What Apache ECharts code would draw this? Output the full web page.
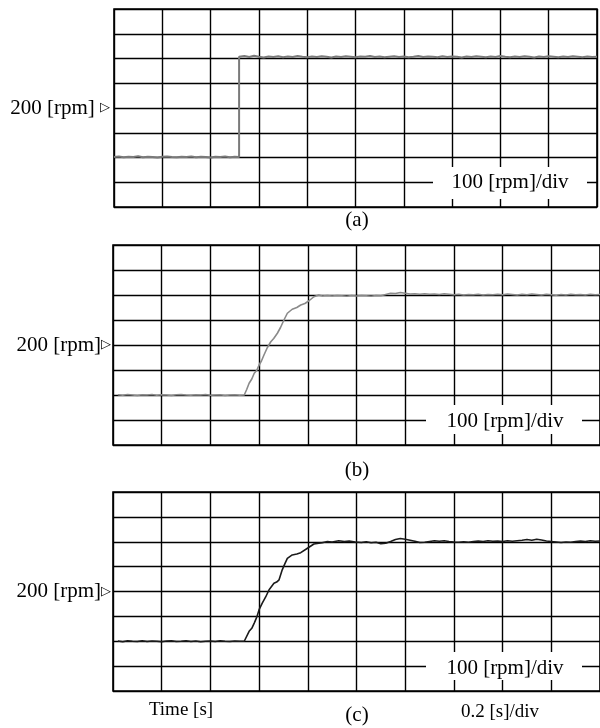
<!DOCTYPE html>
<html>
<head>
<meta charset="utf-8">
<title>Speed step responses</title>
<script src="https://cdn.jsdelivr.net/npm/echarts@6/dist/echarts.min.js"></script>
<style>
  html, body { margin: 0; padding: 0; background: #fff; }
  #chart { width: 600px; height: 728px; }
</style>
</head>
<body>
<div id="chart"></div>
<script>
// speed traces, [time s, speed rpm]
const speedA = [
  [0.00, 2], [0.02, 4], [0.04, 1], [0.06, 3], [0.08, 2], [0.10, 5], [0.12, 1], [0.14, 3], [0.16, 2], [0.18, 0],
  [0.20, 3], [0.22, 4], [0.24, 2], [0.26, 1], [0.28, 3], [0.30, 2], [0.32, 4], [0.34, 1], [0.36, 3], [0.38, 2],
  [0.40, 0], [0.42, 3], [0.44, 2], [0.46, 4], [0.48, 1], [0.50, 3], [0.518, 2],
  [0.518, 407], [0.54, 410], [0.56, 406], [0.58, 411], [0.60, 407], [0.62, 404], [0.64, 408], [0.66, 406],
  [0.68, 409], [0.70, 405], [0.72, 408], [0.74, 406], [0.76, 410], [0.78, 407], [0.80, 405], [0.82, 408],
  [0.84, 406], [0.86, 409], [0.88, 407], [0.90, 404], [0.92, 408], [0.94, 406], [0.96, 409], [0.98, 407],
  [1.00, 405], [1.02, 408], [1.04, 407], [1.06, 410], [1.08, 406], [1.10, 408], [1.12, 405], [1.14, 407],
  [1.16, 409], [1.18, 406], [1.20, 408], [1.22, 405], [1.24, 407], [1.26, 410], [1.28, 406], [1.30, 408],
  [1.32, 407], [1.34, 405], [1.36, 409], [1.38, 406], [1.40, 408], [1.42, 407], [1.44, 404], [1.46, 408],
  [1.48, 406], [1.50, 409], [1.52, 407], [1.54, 405], [1.56, 408], [1.58, 406], [1.60, 410], [1.62, 407],
  [1.64, 405], [1.66, 408], [1.68, 406], [1.70, 409], [1.72, 407], [1.74, 404], [1.76, 408], [1.78, 406],
  [1.80, 409], [1.82, 407], [1.84, 405], [1.86, 408], [1.88, 406], [1.90, 409], [1.92, 407], [1.94, 405],
  [1.96, 408], [1.98, 406], [2.00, 407]
];

const speedB = [
  [0.02, 1], [0.04, -1], [0.06, 2], [0.08, 0], [0.10, -2], [0.12, 1], [0.14, 0], [0.16, 2], [0.18, -1],
  [0.20, 1], [0.22, 0], [0.24, -2], [0.26, 1], [0.28, 2], [0.30, 0], [0.32, -1], [0.34, 1], [0.36, 0],
  [0.38, 2], [0.40, -1], [0.42, 0], [0.44, 1], [0.46, -2], [0.48, 0], [0.50, 1], [0.52, -1], [0.539, 0],
  [0.549, 22], [0.559, 47], [0.570, 64], [0.580, 87], [0.590, 98], [0.600, 120], [0.610, 137], [0.620, 160],
  [0.634, 190], [0.648, 213], [0.660, 226], [0.675, 247], [0.688, 270], [0.702, 300], [0.716, 327],
  [0.736, 343], [0.755, 350], [0.771, 360], [0.788, 366], [0.805, 377], [0.825, 393], [0.845, 400],
  [0.86, 396], [0.88, 398], [0.90, 396], [0.92, 398], [0.94, 397], [0.96, 395], [0.98, 398], [1.00, 396],
  [1.02, 398], [1.04, 397], [1.06, 395], [1.08, 398], [1.10, 397], [1.12, 402], [1.14, 407], [1.16, 406],
  [1.18, 410], [1.20, 407], [1.22, 404], [1.24, 405], [1.26, 403], [1.28, 405], [1.30, 403], [1.32, 404],
  [1.34, 402], [1.36, 405], [1.38, 403], [1.40, 401], [1.42, 403], [1.44, 400], [1.46, 402], [1.48, 401],
  [1.50, 403], [1.52, 400], [1.54, 402], [1.56, 401], [1.58, 403], [1.60, 401], [1.62, 404], [1.64, 402],
  [1.66, 400], [1.68, 403], [1.70, 401], [1.72, 404], [1.74, 402], [1.76, 400], [1.78, 403], [1.80, 401],
  [1.82, 399], [1.84, 402], [1.86, 400], [1.88, 403], [1.90, 401], [1.92, 402], [1.94, 400], [1.96, 403],
  [1.98, 401], [2.00, 402]
];

const speedC = [
  [0.02, 1], [0.04, -2], [0.06, 2], [0.08, 0], [0.10, -1], [0.12, 2], [0.14, -1], [0.16, 1], [0.18, 0],
  [0.20, -2], [0.22, 1], [0.24, 2], [0.26, -1], [0.28, 0], [0.30, 2], [0.32, -1], [0.34, 1], [0.36, -2],
  [0.38, 0], [0.40, 1], [0.42, -1], [0.44, 2], [0.46, 0], [0.48, -1], [0.50, 1], [0.52, 0], [0.539, 0],
  [0.559, 40], [0.570, 52], [0.580, 73], [0.590, 96], [0.600, 127], [0.613, 153], [0.627, 178], [0.641, 207],
  [0.661, 233], [0.672, 238], [0.682, 247], [0.695, 287], [0.706, 312], [0.716, 333], [0.736, 347],
  [0.755, 351], [0.771, 356], [0.797, 373], [0.825, 391],
  [0.859, 396], [0.88, 401], [0.90, 399], [0.927, 404], [0.95, 401], [0.97, 403], [0.995, 399],
  [1.02, 397], [1.04, 400], [1.06, 396], [1.08, 398], [1.10, 392], [1.12, 394], [1.14, 401], [1.16, 409],
  [1.18, 413], [1.20, 410], [1.22, 406], [1.24, 402], [1.26, 397], [1.28, 398], [1.30, 401], [1.32, 404],
  [1.34, 402], [1.36, 404], [1.38, 401], [1.40, 399], [1.42, 398], [1.44, 400], [1.46, 398], [1.48, 401],
  [1.50, 403], [1.52, 401], [1.54, 404], [1.56, 402], [1.58, 403], [1.60, 401], [1.62, 404], [1.64, 402],
  [1.66, 404], [1.68, 406], [1.70, 409], [1.72, 406], [1.74, 410], [1.76, 407], [1.78, 403], [1.80, 401],
  [1.82, 399], [1.84, 397], [1.86, 399], [1.88, 398], [1.90, 401], [1.92, 403], [1.94, 401], [1.96, 404],
  [1.98, 402], [2.00, 403]
];

// texts
const panelNames = ['(a)', '(b)', '(c)'];
const refLabels = ['200 [rpm] ', '200 [rpm]', '200 [rpm]'];
const voltDivLabel = '100 [rpm]/div';
const timeName = 'Time [s]';
const timeDivLabel = '0.2 [s]/div';

const serif = 'Liberation Serif';

// panel boxes on the page
const panels = [
  { left: 114, top: 9,   width: 483, height: 198, trace: speedA, color: '#7a7a7a', lw: 2,   margin: 4, nameY: 220,
    box: [433, 167, 154, 32], textX: 510, textY: 182 },
  { left: 113, top: 245, width: 489, height: 200, trace: speedB, color: '#8a8a8a', lw: 1.6, margin: 2, nameY: 470,
    box: [426, 405, 156, 29], textX: 505, textY: 421 },
  { left: 113, top: 492, width: 489, height: 199, trace: speedC, color: '#1a1a1a', lw: 1.6, margin: 2, nameY: 715,
    box: [426, 652, 156, 28], textX: 505, textY: 668 }
];

const gridLine = { color: '#000', width: 1.4 };

let grids = [], xAxes = [], yAxes = [], series = [], graphics = [];

panels.forEach((p, i) => {
  grids.push({
    left: p.left, top: p.top, width: p.width, height: p.height,
    show: true, borderColor: '#000', borderWidth: 1.6, backgroundColor: '#fff'
  });
  xAxes.push({
    gridIndex: i, type: 'value', min: 0, max: 2, interval: 0.2,
    axisLine: { show: false }, axisTick: { show: false }, axisLabel: { show: false },
    splitLine: { show: true, lineStyle: gridLine }
  });
  yAxes.push({
    gridIndex: i, type: 'value', min: -200, max: 600, interval: 100,
    axisLine: { show: false }, axisTick: { show: false },
    axisLabel: {
      show: true, margin: p.margin, color: '#000',
      fontFamily: serif, fontSize: 21,
      formatter: v => v === 200 ? refLabels[i] + '{t|▷}' : '',
      rich: { t: { fontFamily: 'DejaVu Sans', fontSize: 13, color: '#000' } }
    },
    splitLine: { show: true, lineStyle: gridLine }
  });
  series.push({
    type: 'line', xAxisIndex: i, yAxisIndex: i, data: p.trace,
    showSymbol: false, clip: true, z: 5,
    lineStyle: { color: p.color, width: p.lw }
  });
  // white patch with the vertical scale note
  graphics.push({
    type: 'rect', z: 100,
    shape: { x: p.box[0], y: p.box[1], width: p.box[2], height: p.box[3] },
    style: { fill: '#fff' }
  });
  graphics.push({
    type: 'text', z: 101, x: p.textX, y: p.textY,
    style: { text: voltDivLabel, font: '21px ' + serif, fill: '#000', align: 'center', verticalAlign: 'middle' }
  });
  graphics.push({
    type: 'text', z: 101, x: 357, y: p.nameY,
    style: { text: panelNames[i], font: '21px ' + serif, fill: '#000', align: 'center', verticalAlign: 'middle' }
  });
});

graphics.push({
  type: 'text', z: 101, x: 181, y: 710,
  style: { text: timeName, font: '19px ' + serif, fill: '#000', align: 'center', verticalAlign: 'middle' }
});
graphics.push({
  type: 'text', z: 101, x: 500, y: 712,
  style: { text: timeDivLabel, font: '19px ' + serif, fill: '#000', align: 'center', verticalAlign: 'middle' }
});

const chart = echarts.init(document.getElementById('chart'), null, { renderer: 'canvas' });
chart.setOption({
  backgroundColor: '#fff',
  animation: false,
  grid: grids,
  xAxis: xAxes,
  yAxis: yAxes,
  series: series,
  graphic: graphics
});
</script>
</body>
</html>
